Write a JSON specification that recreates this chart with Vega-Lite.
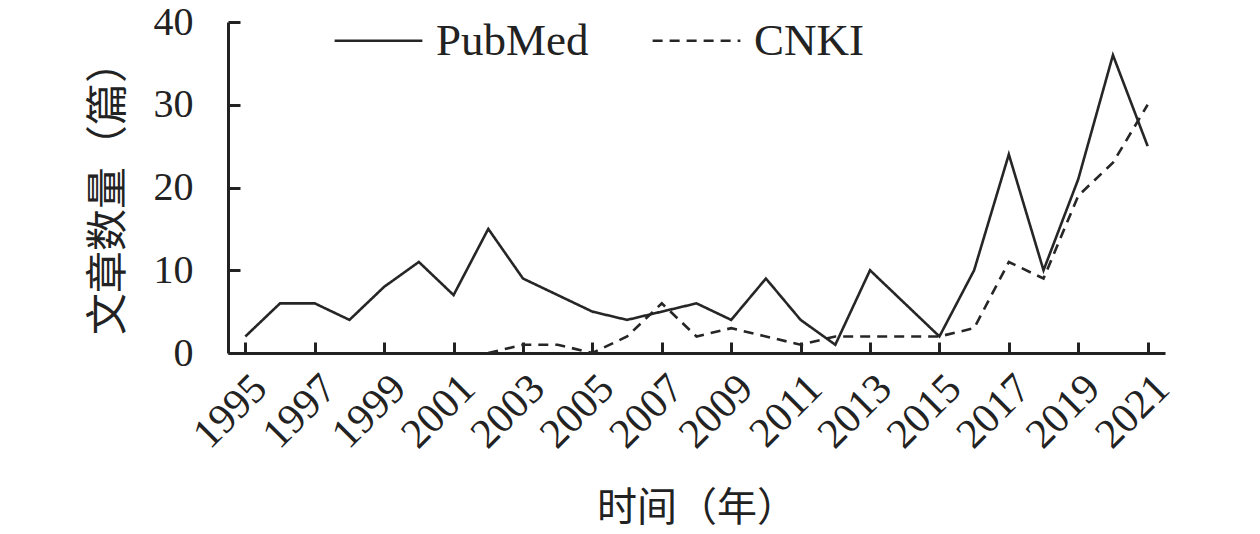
{
  "$schema": "https://vega.github.io/schema/vega-lite/v6.json",
  "autosize": {"type": "none"},
  "padding": {"left": 228, "top": 22, "right": 95, "bottom": 181},
  "width": 937,
  "height": 331,
  "background": "white",
  "config": {
    "view": {"stroke": null},
    "font": "Liberation Serif"
  },
  "data": {
    "values": [
      {"year": 1995, "source": "PubMed", "count": 2},
      {"year": 1996, "source": "PubMed", "count": 6},
      {"year": 1997, "source": "PubMed", "count": 6},
      {"year": 1998, "source": "PubMed", "count": 4},
      {"year": 1999, "source": "PubMed", "count": 8},
      {"year": 2000, "source": "PubMed", "count": 11},
      {"year": 2001, "source": "PubMed", "count": 7},
      {"year": 2002, "source": "PubMed", "count": 15},
      {"year": 2003, "source": "PubMed", "count": 9},
      {"year": 2004, "source": "PubMed", "count": 7},
      {"year": 2005, "source": "PubMed", "count": 5},
      {"year": 2006, "source": "PubMed", "count": 4},
      {"year": 2007, "source": "PubMed", "count": 5},
      {"year": 2008, "source": "PubMed", "count": 6},
      {"year": 2009, "source": "PubMed", "count": 4},
      {"year": 2010, "source": "PubMed", "count": 9},
      {"year": 2011, "source": "PubMed", "count": 4},
      {"year": 2012, "source": "PubMed", "count": 1},
      {"year": 2013, "source": "PubMed", "count": 10},
      {"year": 2014, "source": "PubMed", "count": 6},
      {"year": 2015, "source": "PubMed", "count": 2},
      {"year": 2016, "source": "PubMed", "count": 10},
      {"year": 2017, "source": "PubMed", "count": 24},
      {"year": 2018, "source": "PubMed", "count": 10},
      {"year": 2019, "source": "PubMed", "count": 21},
      {"year": 2020, "source": "PubMed", "count": 36},
      {"year": 2021, "source": "PubMed", "count": 25},
      {"year": 2002, "source": "CNKI", "count": 0},
      {"year": 2003, "source": "CNKI", "count": 1},
      {"year": 2004, "source": "CNKI", "count": 1},
      {"year": 2005, "source": "CNKI", "count": 0},
      {"year": 2006, "source": "CNKI", "count": 2},
      {"year": 2007, "source": "CNKI", "count": 6},
      {"year": 2008, "source": "CNKI", "count": 2},
      {"year": 2009, "source": "CNKI", "count": 3},
      {"year": 2010, "source": "CNKI", "count": 2},
      {"year": 2011, "source": "CNKI", "count": 1},
      {"year": 2012, "source": "CNKI", "count": 2},
      {"year": 2013, "source": "CNKI", "count": 2},
      {"year": 2014, "source": "CNKI", "count": 2},
      {"year": 2015, "source": "CNKI", "count": 2},
      {"year": 2016, "source": "CNKI", "count": 3},
      {"year": 2017, "source": "CNKI", "count": 11},
      {"year": 2018, "source": "CNKI", "count": 9},
      {"year": 2019, "source": "CNKI", "count": 19},
      {"year": 2020, "source": "CNKI", "count": 23},
      {"year": 2021, "source": "CNKI", "count": 30}
    ]
  },
  "mark": {"type": "line", "color": "#262626", "strokeWidth": 2.6},
  "encoding": {
    "x": {
      "field": "year",
      "type": "quantitative",
      "scale": {"domain": [1994.5, 2021.5], "nice": false, "zero": false},
      "axis": {
        "title": "时间（年）",
        "titleFont": "Liberation Serif, Noto Sans CJK SC",
        "titleFontSize": 40,
        "titleFontWeight": "normal",
        "titleColor": "#222",
        "titlePadding": 33,
        "values": [1995, 1997, 1999, 2001, 2003, 2005, 2007, 2009, 2011, 2013, 2015, 2017, 2019, 2021],
        "format": "d",
        "labelAngle": -45,
        "labelFontSize": 42,
        "labelColor": "#222",
        "labelPadding": 25,
        "labelOverlap": false,
        "labelBound": false,
        "labelFlush": false,
        "grid": false,
        "domainColor": "#222",
        "domainWidth": 3,
        "tickColor": "#222",
        "tickWidth": 3,
        "tickSize": -11
      }
    },
    "y": {
      "field": "count",
      "type": "quantitative",
      "scale": {"domain": [0, 40], "nice": false},
      "axis": {
        "title": "文章数量（篇）",
        "titleFont": "Liberation Serif, Noto Sans CJK SC",
        "titleFontSize": 42,
        "titleFontWeight": "normal",
        "titleColor": "#222",
        "titlePadding": 23,
        "values": [0, 10, 20, 30, 40],
        "labelFontSize": 40,
        "labelColor": "#222",
        "labelPadding": 47,
        "grid": false,
        "domainColor": "#222",
        "domainWidth": 3,
        "tickColor": "#222",
        "tickWidth": 3,
        "tickSize": -12
      }
    },
    "strokeDash": {
      "field": "source",
      "type": "nominal",
      "scale": {"domain": ["PubMed", "CNKI"], "range": [[1, 0], [10, 7]]},
      "legend": {
        "title": null,
        "orient": "none",
        "legendX": 105,
        "legendY": -27,
        "direction": "horizontal",
        "labelFontSize": 45,
        "labelColor": "#222",
        "labelFont": "Liberation Serif",
        "symbolType": "stroke",
        "symbolSize": 7700,
        "symbolStrokeWidth": 2.6,
        "symbolStrokeColor": "#262626",
        "columnPadding": 58,
        "labelOffset": 12
      }
    }
  }
}
